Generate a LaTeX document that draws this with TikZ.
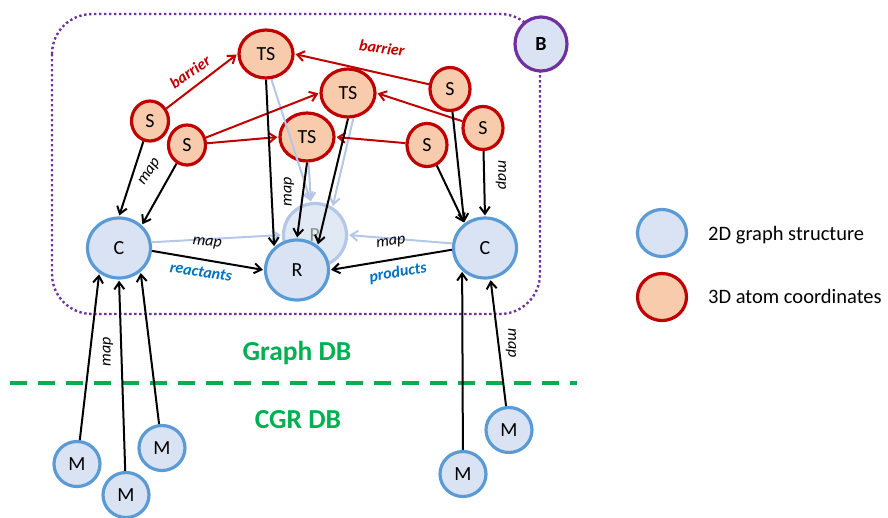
\documentclass[tikz,border=0pt]{standalone}
\usepackage{fontspec}
\setmainfont{Carlito}
\usetikzlibrary{arrows.meta,shapes.geometric}

\definecolor{nodeblue}{HTML}{DAE3F3}
\definecolor{ringblue}{HTML}{5B9BD5}
\definecolor{nodered}{HTML}{F8CBAD}
\definecolor{ringred}{HTML}{C00000}
\definecolor{fadeblue}{HTML}{B4C7E7}
\definecolor{boxpurple}{HTML}{7030A0}
\definecolor{dbgreen}{HTML}{00B050}
\definecolor{rolblue}{HTML}{0070C0}
\definecolor{fadegray}{HTML}{8C8C8C}

\tikzset{
  basenode/.style={ellipse, inner sep=0pt, line width=3.2pt,
    font=\fontsize{20}{20}\selectfont},
  gnode/.style={basenode, draw=ringblue, fill=nodeblue,
    minimum width=63pt, minimum height=60pt},
  mnode/.style={basenode, draw=ringblue, fill=nodeblue,
    minimum width=46pt, minimum height=45pt},
  tsnode/.style={basenode, draw=ringred, fill=nodered,
    minimum width=54pt, minimum height=48pt},
  snodeL/.style={basenode, draw=ringred, fill=nodered,
    minimum width=37pt, minimum height=40pt},
  snodeR/.style={basenode, draw=ringred, fill=nodered,
    minimum width=40pt, minimum height=43pt},
  ghostnode/.style={basenode, draw=fadeblue, fill=nodeblue!80!white,
    text=fadegray, minimum width=63pt, minimum height=63pt},
  bnode/.style={basenode, draw=boxpurple, fill=nodeblue,
    minimum width=52pt, minimum height=54pt, font=\fontsize{20}{20}\selectfont\bfseries},
  keyblue/.style={basenode, draw=ringblue, fill=nodeblue,
    minimum width=49pt, minimum height=47pt},
  keyred/.style={basenode, draw=ringred, fill=nodered,
    minimum width=49pt, minimum height=47pt},
  tip/.style={-{Straight Barb[length=7pt,width=10pt]}, shorten >=1pt},
  blk/.style={tip, draw=black, line width=2pt},
  redarr/.style={tip, draw=ringred, line width=2pt},
  fadearr/.style={tip, draw=fadeblue, line width=2pt},
  maplbl/.style={inner sep=0pt, font=\fontsize{16}{16}\selectfont\itshape},
  barlbl/.style={inner sep=0pt, text=ringred,
    font=\fontsize{16}{16}\selectfont\bfseries\itshape},
  rollbl/.style={inner sep=0pt, text=rolblue,
    font=\fontsize{16}{16}\selectfont\bfseries\itshape},
  dblbl/.style={inner sep=0pt, anchor=base, text=dbgreen,
    font=\fontsize{27.5}{27.5}\selectfont\bfseries},
  keylbl/.style={inner sep=0pt, anchor=base west,
    font=\fontsize{20.5}{20.5}\selectfont},
}

\begin{document}
\begin{tikzpicture}[x=1pt,y=-1pt]
\useasboundingbox (0,0) rectangle (888,517);

% graph database boundary
\draw[boxpurple, line width=2.4pt, dash pattern=on 2.4pt off 2.6pt,
      rounded corners=40pt] (52,14) rectangle (540,314);

% split between the two databases
\coordinate (sepL) at (10,383);
\coordinate (sepR) at (577,383);
\draw[dbgreen, line width=3.4pt, dash pattern=on 17pt off 11pt] (sepL) -- (sepR);

% transition states and stationary structures
\node[tsnode] (TS1) at (266,54) {TS};
\node[tsnode] (TS2) at (348,93) {TS};
\node[tsnode] (TS3) at (307,137) {TS};
\node[snodeL] (S1) at (150,121) {S};
\node[snodeL] (S2) at (187,145) {S};
\node[snodeR] (S3) at (450,89) {S};
\node[snodeR] (S4) at (483,128) {S};
\node[snodeR] (S5) at (427,145) {S};

% 2D graph level
\node[ghostnode] (FR) at (315,235) {R};
\node[gnode] (CL) at (119,248) {C};
\node[gnode] (CR) at (485,248) {C};
\node[gnode] (R) at (297,270) {R};
\node[bnode] (B) at (541,44) {B};

% CGR molecules
\node[mnode] (M1) at (77,464) {M};
\node[mnode] (M2) at (126,495) {M};
\node[mnode] (M3) at (162,448) {M};
\node[mnode] (M4) at (463,474) {M};
\node[mnode] (M5) at (509,430) {M};

% legend
\node[keyblue] (K1) at (662,233) {};
\node[keyred] (K2) at (662,297) {};
\node[keylbl] (K1t) at (708,240) {2D graph structure};
\node[keylbl] (K2t) at (708,303.5) {3D atom coordinates};

% faded mapping onto the ghost reaction
\draw[fadearr] (TS1.282) -- (FR.97);
\draw[fadearr] (TS3) -- (FR.97);
\draw[fadearr] (TS2.-78) -- (FR.58);
\draw[fadearr] (CL.10) -- (FR.west);
\draw[fadearr] (CR.172) -- (FR.east);

% barrier arrows
\draw[redarr] (S1) -- (TS1.west);
\draw[redarr] (S2) -- (TS2.west);
\draw[redarr] (S2) -- (TS3.west);
\draw[redarr] (S3) -- (TS1.east);
\draw[redarr] (S4) -- (TS2.east);
\draw[redarr] (S5) -- (TS3.east);

% map arrows
\draw[blk] (S1) -- (CL.north);
\draw[blk] (S2) -- (CL.45);
\draw[blk] (TS1.south) -- (R.135);
\draw[blk] (TS3.south) -- (R.north);
\draw[blk] (TS2.south) -- (R.50);
\draw[blk] (S3) -- (CR.130);
\draw[blk] (S5) -- (CR.130);
\draw[blk] (S4) -- (CR.north);
\draw[blk] (CL.-5) -- (R.west);
\draw[blk] (CR.183) -- (R.east);
\draw[blk] (M1) -- (CL.232);
\draw[blk] (M2) -- (CL.south);
\draw[blk] (M3) -- (CL.312);
\draw[blk] (M4) -- (CR.225);
\draw[blk] (M5) -- (CR.280);

% edge labels
\node[barlbl, rotate=35] (bar1) at (190,72) {barrier};
\node[barlbl, rotate=-8] (bar2) at (382,48) {barrier};
\node[maplbl, rotate=56] (map1) at (150,172) {map};
\node[maplbl, rotate=90] (map2) at (289,192) {map};
\node[maplbl, rotate=-90] (map3) at (501,175) {map};
\node[maplbl, rotate=-6] (map4) at (207,243) {map};
\node[maplbl, rotate=7] (map5) at (391,243) {map};
\node[maplbl, rotate=90] (map6) at (108,352) {map};
\node[maplbl, rotate=-90] (map7) at (511,343) {map};
\node[rollbl, rotate=-9] (react) at (201,272) {reactants};
\node[rollbl, rotate=10] (prod) at (398,273) {products};

% database names
\node[dblbl] (gdb) at (297,360) {Graph DB};
\node[dblbl] (cdb) at (298,428) {CGR DB};
\end{tikzpicture}
\end{document}
